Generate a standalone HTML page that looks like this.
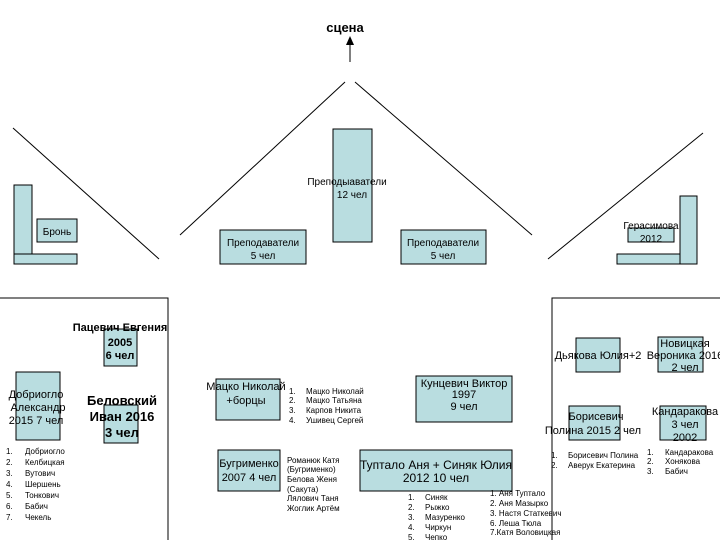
<!DOCTYPE html>
<html><head><meta charset="utf-8"><style>
html,body{margin:0;padding:0;background:#fff;width:720px;height:540px;overflow:hidden}
svg{display:block}
text{font-family:"Liberation Sans",sans-serif;fill:#000}
</style></head><body>
<svg width="720" height="540" viewBox="0 0 720 540" xmlns="http://www.w3.org/2000/svg">
<g stroke="#000" stroke-width="1" fill="none">
<line x1="345" y1="82" x2="180" y2="235"/>
<line x1="355" y1="82" x2="532" y2="235"/>
<line x1="13" y1="128" x2="159" y2="259"/>
<line x1="703" y1="133" x2="548" y2="259"/>
<line x1="350" y1="62" x2="350" y2="44"/>
<polyline points="0,298 168,298 168,540"/>
<polyline points="720,298 552,298 552,540"/>
</g>
<polygon points="350,36 346,45 354,45" fill="#000"/>
<g fill="#b9dde0" stroke="#000" stroke-width="1">
<rect x="333" y="129" width="39" height="113"/>
<rect x="14" y="185" width="18" height="69"/>
<rect x="14" y="254" width="63" height="10"/>
<rect x="37" y="219" width="40" height="23"/>
<rect x="220" y="230" width="86" height="34"/>
<rect x="401" y="230" width="85" height="34"/>
<rect x="680" y="196" width="17" height="68"/>
<rect x="617" y="254" width="63" height="10"/>
<rect x="628" y="228" width="46" height="14"/>
<rect x="104" y="329" width="33" height="37"/>
<rect x="16" y="372" width="44" height="68"/>
<rect x="104" y="405" width="34" height="38"/>
<rect x="216" y="379" width="64" height="41"/>
<rect x="416" y="376" width="96" height="46"/>
<rect x="218" y="450" width="62" height="41"/>
<rect x="360" y="450" width="152" height="41"/>
<rect x="576" y="338" width="44" height="34"/>
<rect x="658" y="337" width="45" height="35"/>
<rect x="569" y="406" width="51" height="34"/>
<rect x="660" y="406" width="46" height="34"/>
</g>
<g text-anchor="middle">
<text x="345" y="32" font-size="13" font-weight="bold">сцена</text>
<text x="347" y="185" font-size="10">Преподыаватели</text>
<text x="352" y="198" font-size="10">12 чел</text>
<text x="57" y="235" font-size="10">Бронь</text>
<text x="263" y="246" font-size="10">Преподаватели</text>
<text x="263" y="259" font-size="10">5 чел</text>
<text x="443" y="246" font-size="10">Преподаватели</text>
<text x="443" y="259" font-size="10">5 чел</text>
<text x="651" y="229" font-size="10">Герасимова</text>
<text x="651" y="242" font-size="10">2012</text>
<text x="120" y="331" font-size="11" font-weight="bold">Пацевич  Евгения</text>
<text x="120" y="346" font-size="11" font-weight="bold">2005</text>
<text x="120" y="359" font-size="11" font-weight="bold">6 чел</text>
<text x="36" y="398" font-size="11">Добриогло</text>
<text x="38" y="411" font-size="11">Александр</text>
<text x="36" y="424" font-size="11">2015  7 чел</text>
<text x="122" y="405" font-size="13" font-weight="bold">Беловский</text>
<text x="122" y="421" font-size="13" font-weight="bold">Иван 2016</text>
<text x="122" y="437" font-size="13" font-weight="bold">3 чел</text>
<text x="246" y="390" font-size="11">Мацко Николай</text>
<text x="246" y="404" font-size="11">+борцы</text>
<text x="464" y="387" font-size="11">Кунцевич  Виктор</text>
<text x="464" y="398" font-size="11">1997</text>
<text x="464" y="410" font-size="11">9 чел</text>
<text x="249" y="467" font-size="11">Бугрименко</text>
<text x="249" y="481" font-size="11">2007 4 чел</text>
<text x="436" y="469" font-size="12">Туптало Аня + Синяк Юлия</text>
<text x="436" y="482" font-size="12">2012  10  чел</text>
<text x="598" y="359" font-size="11">Дьякова Юлия+2</text>
<text x="685" y="347" font-size="11">Новицкая</text>
<text x="685" y="359" font-size="11">Вероника 2016</text>
<text x="685" y="371" font-size="11">2 чел</text>
<text x="596" y="420" font-size="11">Борисевич</text>
<text x="593" y="434" font-size="11">Полина 2015  2  чел</text>
<text x="685" y="415" font-size="11">Кандаракова</text>
<text x="685" y="428" font-size="11">3 чел</text>
<text x="685" y="441" font-size="11">2002</text>
</g>
<g font-size="8">
<text x="6" y="454">1.</text><text x="25" y="454">Добриогло</text>
<text x="6" y="465">2.</text><text x="25" y="465">Келбицкая</text>
<text x="6" y="476">3.</text><text x="25" y="476">Вутович</text>
<text x="6" y="487">4.</text><text x="25" y="487">Шершень</text>
<text x="6" y="498">5.</text><text x="25" y="498">Тонкович</text>
<text x="6" y="509">6.</text><text x="25" y="509">Бабич</text>
<text x="6" y="520">7.</text><text x="25" y="520">Чекель</text>
<text x="289" y="394">1.</text><text x="306" y="394">Мацко Николай</text>
<text x="289" y="403">2.</text><text x="306" y="403">Мацко Татьяна</text>
<text x="289" y="413">3.</text><text x="306" y="413">Карпов Никита</text>
<text x="289" y="423">4.</text><text x="306" y="423">Ушивец Сергей</text>
<text x="287" y="463">Романюк Катя</text>
<text x="287" y="472">(Бугрименко)</text>
<text x="287" y="482">Белова Женя</text>
<text x="287" y="492">(Сакута)</text>
<text x="287" y="501">Лялович Таня</text>
<text x="287" y="511">Жоглик Артём</text>
<text x="408" y="500">1.</text><text x="425" y="500">Синяк</text>
<text x="408" y="510">2.</text><text x="425" y="510">Рыжко</text>
<text x="408" y="520">3.</text><text x="425" y="520">Мазуренко</text>
<text x="408" y="530">4.</text><text x="425" y="530">Чиркун</text>
<text x="408" y="540">5.</text><text x="425" y="540">Чепко</text>
<text x="490" y="496">1. Аня Туптало</text>
<text x="490" y="506">2. Аня Мазырко</text>
<text x="490" y="516">3. Настя Статкевич</text>
<text x="490" y="526">6. Леша Тюла</text>
<text x="490" y="535">7.Катя Воловицкая</text>
<text x="551" y="458">1.</text><text x="568" y="458">Борисевич Полина</text>
<text x="551" y="468">2.</text><text x="568" y="468">Аверук Екатерина</text>
<text x="647" y="455">1.</text><text x="665" y="455">Кандаракова</text>
<text x="647" y="464">2.</text><text x="665" y="464">Хонякова</text>
<text x="647" y="474">3.</text><text x="665" y="474">Бабич</text>
</g>
</svg>
</body></html>
